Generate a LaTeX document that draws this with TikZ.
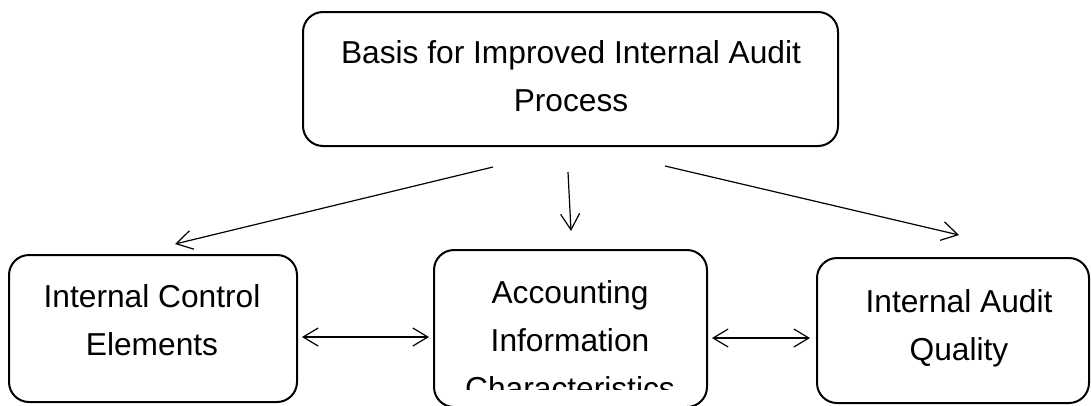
\documentclass[tikz,border=0pt]{standalone}
\usepackage{fontspec}
\setmainfont{Liberation Sans}
\usetikzlibrary{arrows.meta,positioning}

\begin{document}
\begin{tikzpicture}
	% Styles
	[
	x=1pt, y=-1pt,
	box/.style={rectangle,rounded corners=20pt,draw=black,line width=2pt,inner sep=0pt},
	label text/.style={align=center,inner sep=0pt,anchor=base,font=\fontsize{31.7}{48}\selectfont},
	link/.style={line width=1.2pt,-{Straight Barb[length=16pt,width=19pt]}},
	twoway/.style={line width=1.2pt,{Straight Barb[length=15pt,width=18pt]}-{Straight Barb[length=15pt,width=18pt]}},
	]
	\useasboundingbox (0,0) rectangle (1091,405);

	% Nodes
	\node at (570.5,79)	(basis)	[box,minimum width=535pt,minimum height=134pt] {};
	\node at (153,328.5)	(ice)	[box,minimum width=288pt,minimum height=147pt] {};
	\node at (570.5,328.5)	(aic)	[box,minimum width=273pt,minimum height=157pt] {};
	\node at (953,330.5)	(iaq)	[box,minimum width=272pt,minimum height=145pt] {};

	% Texts
	\node at (571,111)	(basisText)	[label text] {Basis for Improved Internal Audit\\Process};
	\node at (152,355)	(iceText)	[label text] {Internal Control\\Elements};
	\node at (959,360)	(iaqText)	[label text] {Internal Audit\\Quality};
	\begin{scope}
		\clip (434,250) rectangle (707,389);
		\node at (570,399)	(aicText)	[label text] {Accounting\\Information\\Characteristics};
	\end{scope}

	% End points
	\coordinate (l1) at (493,167);
	\coordinate (l2) at (175,244);
	\coordinate (m1) at (568,172);
	\coordinate (m2) at (571,231);
	\coordinate (r1) at (665,166);
	\coordinate (r2) at (959,235);

	% Connections
	\draw[link] (l1) -- (l2);
	\draw[link] (m1) -- (m2);
	\draw[link] (r1) -- (r2);
	\draw[twoway,shorten <=4pt,shorten >=4pt] (ice.east |- 0,337) -- (aic.west |- 0,337);
	\draw[twoway,shorten <=4pt,shorten >=6pt] (aic.east |- 0,338) -- (iaq.west |- 0,338);

\end{tikzpicture}
\end{document}
